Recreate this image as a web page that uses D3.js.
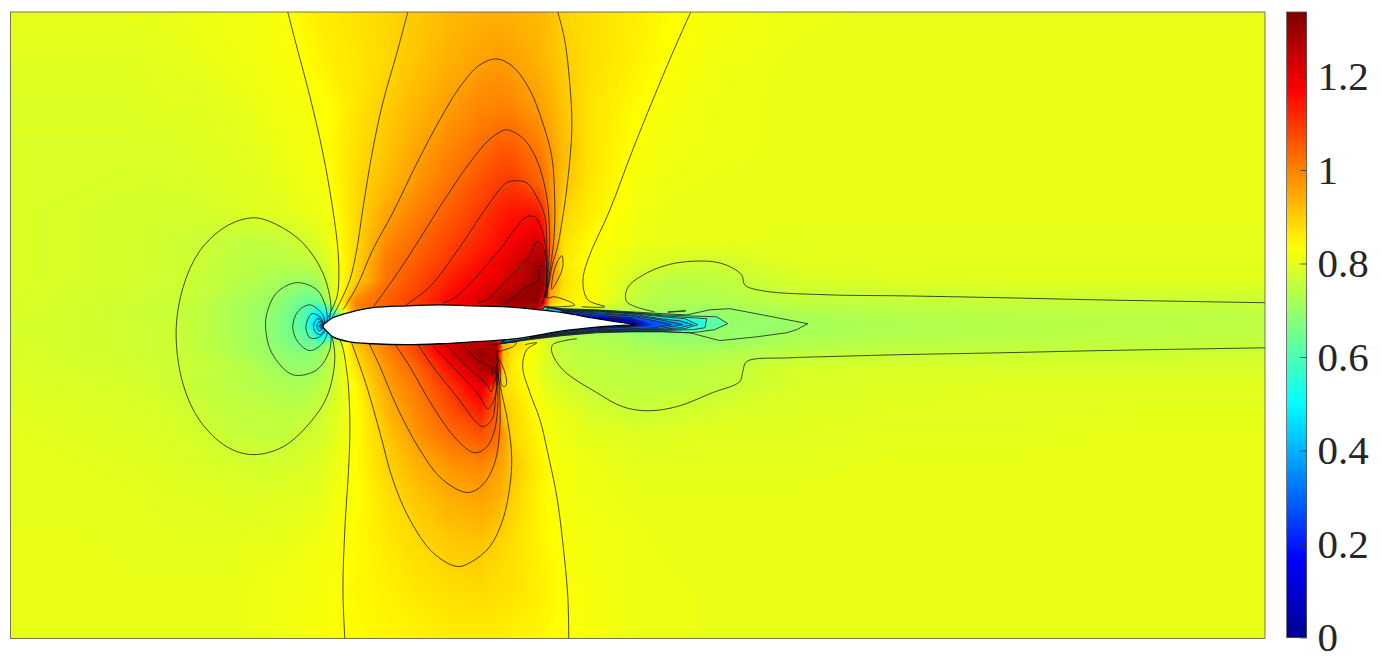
<!DOCTYPE html>
<html><head><meta charset="utf-8">
<script src="https://cdn.jsdelivr.net/npm/d3@7"></script>
<style>html,body{margin:0;padding:0;background:#fff;overflow:hidden}svg{display:block}</style>
</head><body><svg id="c" width="1382" height="656"></svg>
<script>
// Sample positions of the Mach field, in chord units
const gridX=[-1,-.8,-.6,-.5,-.4,-.3,-.2,-.12,-.06,-.02,.02,.1,.2,.3,.4,.5,.55,.57,.6,.68,.7,.72,.76,.85,1,1.1,1.25,1.5,1.8,2.2,2.6,3];
const gridY=[1,.85,.7,.55,.45,.35,.27,.2,.14,.08,.045,0,-.06,-.09,-.14,-.2,-.27,-.35,-.45,-.55,-.7,-.85,-1];
// Mach number x 100, one row per gridY
const machRows=[
[81,81,81,81,81.5,82,82,83,85,86,86.5,87.5,89,91,93,94,94,94,94,93,92.5,92,89.5,88,86,84,82.5,81.5,81,81,81,81],
[80,80,80,80.5,81,81.5,82,83,84,85,86,87,89,91.5,94,96,96.7,96.5,96,94,93,92.5,90.5,88,85.5,83.5,82,81,81,81,81,81],
[79.5,79.5,79.5,80,80,80.5,81.5,82,82.5,83,84,87,90.5,93.5,96.7,99.5,100,100,99.5,96.7,95.5,94.5,91.5,87.5,84,82.5,81.5,81,81,81,81,81],
[79,79,79,79,79.5,80,80.5,81.5,82,82.5,84.5,88,91.5,96,100,103.5,105.5,106,106,102,100,97.5,93,87.5,83,82,81.5,81,81,81,81,81],
[79,79,78.5,78.5,79,79.5,80,81,81.5,82,83.5,88.5,93,98,102.5,107,109,109.5,110,105,103,98.5,92,87,82.5,81.5,81,81,81,81,81,81],
[79,78.5,78,78,78,78.5,79.5,80,81,81.5,82.5,88.5,96,101,105.5,110,113,114,115,115.5,111,101,89.5,86,82,81,81,81,81,81,81,81],
[79,78.5,78,77.5,77,76,75.5,76.5,78,79.5,81.5,88.5,99,103.5,108,112.5,115,116,118,123,118,103,88,84,81.5,81,81,80.5,80.5,80.5,80.5,80.5],
[79,78.5,78,77.5,77,75.5,74.5,74.5,75.5,76.5,80,89,101.5,105.5,110.5,115.5,118,119.5,121.5,129,129,105,87,83,80,78.5,77.5,80,80.5,80.5,80.5,80.5],
[79,78.5,78,77.5,76.5,75,73.5,71.5,70.5,72,78.5,90,102.5,107.5,113.5,118.5,121,122.5,124.5,131,131,102,88,83.5,77,74.5,75,78.5,79.5,80,80,80],
[79,78,77.5,77,76,73.5,71.5,68,64,65,76,99,104.5,110,116.5,122.5,127,129,130.5,132,120,94,87,84,75.5,73.5,73.5,76,76.2,76.5,76.8,77],
[79,78,77,76.5,75.5,73,70.5,66.5,61,51,60,100,105,108,112,118,122,124,126,126,110,85,78,78,74,72,71,73.5,74.5,75,75,75.5],
[78,78,77.5,77,75.5,73,70.5,66,60,35,30,80,80,80,80,80,80,80,80,80,80,78,76,73,68,68,69,72,73,74,74.5,75],
[79,78,77.5,77,75.5,73.5,71,67,64.5,63,71,91.5,101,110,124,127,130,95,90,83,80,78,75,74,72.5,71,71,73.5,74.5,75,75.5,76],
[79,78,77.5,77,76,74,71.5,69,68,70,75,89.5,100,108,121.5,131,128,93,87,82,80.5,78.5,76,75,73.5,73,73.5,75.5,76.5,76.8,77,77.5],
[79,78.5,78,77,76.5,75,73,71,70,71.5,75.5,87,97.5,104.5,115,127,131,91,86,81,79.5,78.5,76.7,75.5,75,75,75.5,78.5,79,79,79,79],
[79.5,79,78.5,77.5,76,75,74,73,73.5,74.5,76.5,84.5,95.5,102,110,120,105,88.5,87,82.5,81,80,78.5,76.5,75.5,75.5,76,79,79.5,80,80,80],
[80,79.5,79,78.5,77,76,75.5,75,75.5,76.5,78.5,83.5,93.5,100,107,114,105,92,89,83.5,82.5,82,81,78.5,76.5,77.5,78.5,79.5,80,80,80.5,80.5],
[80.5,80,79.5,79,78,76.5,76,76,77.5,78,79.5,83.5,91,98,103,106.5,104,98,89.5,85,83.3,82.5,81.5,80.5,79.5,79.5,80,80,80.5,80.5,81,81],
[80.5,80.5,80,79.5,79,78.5,78,78.5,79,79.5,80.5,83.8,89.5,94,97.5,99.5,96.5,95,91.5,86,85,84,82.5,81.5,80.5,80.5,80.5,80.5,81,81,81,81],
[80.5,80.5,80.5,80,80,79.5,79.5,80,80,80.5,81.5,83.5,88,91.5,94.5,96,94.5,93,90,85.5,84.5,83.5,82.5,81.5,81,81,81,81,81,81,81,81],
[81,81,80.5,80.5,80.5,80.5,81,81,81.5,82,82.5,84.2,86.5,88.7,90.7,91.3,89.5,89,88,85.5,85,84.2,83.3,82,81.5,81,81,81,81,81,81,81],
[81,81,81,81,81,81,81.5,82,82,82.5,83,84.5,85.5,87,88,88.5,88,87.8,87.5,86,85.5,85,84,82.5,81.5,81.5,81,81,81,81,81,81],
[81,81,81,81,81,81,81.5,82,82.5,82.5,83,84,85,85.5,86,86,86,86,85.5,85,84.5,84,83.5,82.5,81.5,81.5,81,81,81,81,81,81]
];
const colorbarTicks=[0,.2,.4,.6,.8,1,1.2];
const machMax=1.338;

const airfoil=[[-.004,-.002],[.010,.012],[.028,.024],[.082,.041],[.155,.056],[.264,.062],[.369,.065],[.474,.062],[.582,.059],[.688,.049],[.761,.040],[.869,.021],[.975,.005],[.993,.003],[.869,-.006],[.761,-.018],[.656,-.036],[.582,-.046],[.474,-.053],[.369,-.059],[.264,-.062],[.155,-.059],[.082,-.053],[.028,-.037],[.013,-.024]];

// Open contour lines (chord units)
const upperLeft833=[[-.116,1],[-.087,.888],[-.045,.729],[-.004,.550],[.028,.368],[.044,.241],[.047,.155],[.041,.091],[.012,.024]];
const upperLeft900=[[.267,1],[.232,.869],[.187,.710],[.155,.560],[.123,.368],[.104,.241],[.082,.145],[.050,.072],[.025,.024]];
const upperRight900=[[.745,1],[.767,.911],[.783,.774],[.790,.633],[.777,.464],[.758,.327],[.742,.241],[.729,.199],[.719,.145],[.710,.088],[.735,.091],[.799,.065],[.751,.059],[.707,.059]];
const upperRight833=[[1.169,1],[1.111,.869],[1.048,.719],[.984,.560],[.911,.368],[.841,.209],[.825,.139],[.841,.081],[.895,.059],[.821,.059]];
const upper967=[[.060,.049],[.104,.123],[.155,.241],[.219,.359],[.296,.518],[.369,.656],[.433,.761],[.496,.831],[.551,.850],[.602,.825],[.656,.751],[.697,.646],[.726,.538],[.735,.410],[.735,.314],[.729,.241],[.719,.167],[.710,.091]];
const upper1033=[[.155,.056],[.219,.145],[.283,.241],[.369,.378],[.455,.506],[.519,.585],[.551,.611],[.582,.624],[.633,.598],[.678,.528],[.710,.410],[.719,.282],[.716,.199],[.710,.091]];
const upper1100=[[.257,.062],[.337,.123],[.433,.250],[.519,.378],[.582,.455],[.614,.461],[.646,.455],[.678,.410],[.704,.346],[.710,.263],[.710,.177],[.707,.091]];
const upper1167=[[.378,.072],[.407,.081],[.455,.123],[.560,.241],[.614,.314],[.646,.346],[.672,.346],[.694,.305],[.707,.241],[.710,.167],[.707,.088]];
const upper1233=[[.490,.072],[.519,.081],[.582,.145],[.646,.209],[.662,.234],[.678,.266],[.697,.250],[.710,.187],[.707,.123],[.697,.072]];
const upper1300=[[.576,.069],[.586,.075],[.633,.113],[.681,.145],[.688,.187],[.703,.187],[.710,.145],[.703,.091],[.694,.065]];
const oval767=[[.015,.011],[.022,.059],[-.004,.167],[-.068,.263],[-.151,.321],[-.224,.343],[-.310,.317],[-.396,.238],[-.450,.120],[-.472,-.024],[-.450,-.187],[-.396,-.305],[-.310,-.388],[-.227,-.413],[-.131,-.388],[-.045,-.311],[.009,-.228],[.034,-.110],[.025,-.037],[.015,-.014]];
const oval700=[[.012,.002],[.005,.059],[-.023,.113],[-.087,.136],[-.151,.104],[-.182,.040],[-.186,-.014],[-.167,-.088],[-.100,-.158],[-.023,-.142],[.018,-.078],[.022,-.024]];
const oval633=[[.002,.002],[-.004,.033],[-.045,.065],[-.084,.043],[-.100,-.005],[-.084,-.053],[-.045,-.081],[-.004,-.056],[.012,-.021]];
const oval567=[[-.004,.008],[-.014,.027],[-.039,.037],[-.058,-.005],[-.045,-.040],[-.020,-.040],[.002,-.021]];
const lobeUpper767=[[1.054,.043],[.965,.075],[.968,.120],[1.029,.167],[1.124,.199],[1.261,.199],[1.331,.161],[1.341,.129],[1.398,.110],[1.612,.097],[1.835,.094],[2.154,.088],[2.472,.081],[3,.072]];
const lobeLower767=[[.806,-.043],[.729,-.062],[.726,-.085],[.761,-.142],[.869,-.215],[.952,-.260],[1.029,-.273],[1.124,-.260],[1.239,-.215],[1.325,-.180],[1.335,-.148],[1.347,-.116],[1.484,-.104],[1.612,-.100],[1.835,-.094],[2.154,-.088],[2.472,-.081],[3,-.072]];
const sliver767=[[1.096,.043],[1.153,.046],[1.096,.041]];
const lower833L=[[.066,-1],[.060,-.844],[.066,-.652],[.079,-.439],[.082,-.301],[.073,-.152],[.050,-.046],[.021,-.018]];
const lower833R=[[.780,-1],[.777,-.866],[.761,-.694],[.742,-.547],[.713,-.407],[.688,-.301],[.656,-.215],[.633,-.132],[.646,-.078],[.678,-.056],[.640,-.062]];
const lower900=[[.082,-.040],[.136,-.196],[.178,-.343],[.219,-.493],[.273,-.620],[.347,-.726],[.423,-.770],[.465,-.758],[.528,-.707],[.570,-.620],[.592,-.515],[.598,-.420],[.586,-.311],[.566,-.215],[.554,-.152],[.551,-.078]];
const lower967=[[.139,-.049],[.178,-.132],[.232,-.260],[.305,-.397],[.378,-.493],[.458,-.534],[.506,-.509],[.544,-.439],[.560,-.333],[.560,-.228],[.554,-.142]];
const lower1033=[[.225,-.059],[.273,-.132],[.347,-.260],[.423,-.365],[.480,-.407],[.519,-.388],[.544,-.333],[.554,-.247],[.551,-.152]];
const lower1100=[[.299,-.062],[.347,-.132],[.423,-.228],[.487,-.311],[.506,-.324],[.535,-.301],[.547,-.228],[.551,-.152]];
const lower1167=[[.347,-.065],[.410,-.132],[.487,-.215],[.522,-.266],[.538,-.247],[.551,-.196],[.551,-.120]];
const lower1233=[[.391,-.065],[.455,-.132],[.519,-.190],[.532,-.212],[.541,-.190],[.551,-.142]];
const lower1300=[[.442,-.065],[.496,-.116],[.535,-.136],[.538,-.158],[.551,-.132],[.551,-.088]];
const lowerLobe=[[.538,-.062],[.614,-.056],[.601,-.069],[.551,-.085]];
const openLines=[upperLeft833,upperLeft900,upperRight900,upperRight833,upper967,upper1033,upper1100,upper1167,upper1233,upper1300,oval767,oval700,oval633,oval567,lobeUpper767,lobeLower767,sliver767,lower833L,lower833R,lower900,lower967,lower1033,lower1100,lower1167,lower1233,lower1300,lowerLobe];

// Closed contour loops
const bubbleUpper=[[.742,.199],[.758,.222],[.761,.187],[.745,.145],[.726,.116],[.729,.155]];
const bubbleLower=[[.554,-.104],[.570,-.132],[.582,-.183],[.576,-.196],[.566,-.190],[.560,-.132]];
const closedLines=[bubbleUpper,bubbleLower];

// Thin nested regions at the leading edge and in the boundary layer / wake
const le500=[[-.004,.008],[-.020,.021],[-.033,.002],[-.029,-.021],[-.014,-.030],[.002,-.014]];
const le433=[[-.004,.008],[-.017,.011],[-.023,-.002],[-.017,-.018],[-.004,-.011]];
const le300=[[-.004,.006],[-.012,.003],[-.014,-.004],[-.010,-.010],[-.003,-.007]];
const le200=[[-.005,.003],[-.008,0],[-.007,-.005],[-.003,-.004]];
const leLevels=[[.50,le500],[.43,le433],[.30,le300],[.15,le200]];
const wake700=[[.704,.059],[.761,.053],[.869,.049],[.975,.043],[1.080,.037],[1.156,.033],[1.229,.049],[1.293,.053],[1.398,.033],[1.542,.005],[1.507,-.014],[1.475,-.024],[1.379,-.037],[1.261,-.049],[1.166,-.024],[1.080,-.021],[.975,-.021],[.869,-.024],[.761,-.033],[.656,-.046],[.560,-.059]];
const wake633=[[.704,.059],[.761,.051],[.869,.048],[.975,.041],[1.080,.033],[1.156,.030],[1.252,.027],[1.287,.005],[1.245,-.014],[1.198,-.021],[1.166,-.024],[1.080,-.020],[.975,-.020],[.869,-.022],[.761,-.032],[.656,-.044],[.560,-.059]];
const wake567=[[.704,.059],[.761,.049],[.869,.046],[.975,.040],[1.080,.030],[1.175,.024],[1.220,.021],[1.214,-.008],[1.175,-.014],[1.080,-.017],[.975,-.019],[.869,-.021],[.761,-.030],[.656,-.043],[.560,-.059]];
const wake500=[[.719,.056],[.761,.048],[.869,.045],[.975,.038],[1.080,.027],[1.150,.021],[1.191,.002],[1.150,-.011],[1.080,-.015],[.975,-.017],[.869,-.019],[.761,-.029],[.656,-.042],[.560,-.059]];
const wake433=[[.719,.056],[.761,.046],[.869,.043],[.975,.037],[1.070,.021],[1.134,.014],[1.175,.002],[1.134,-.008],[1.070,-.013],[.975,-.015],[.869,-.018],[.761,-.027],[.656,-.041],[.560,-.055]];
const wake367=[[.761,.046],[.869,.040],[.975,.033],[1.070,.018],[1.143,.002],[1.070,-.011],[.975,-.013],[.869,-.016],[.761,-.026],[.656,-.040]];
const wake300=[[.761,.045],[.869,.037],[.975,.030],[1.054,.014],[1.108,.002],[1.054,-.008],[.975,-.011],[.869,-.014],[.761,-.024],[.656,-.039]];
const wake200=[[.761,.043],[.869,.032],[.975,.024],[1.038,.002],[.975,-.006],[.869,-.011],[.761,-.021],[.656,-.037]];
const wake100=[[.869,.027],[.975,.018],[1.010,.002],[.975,-.003],[.869,-.008]];
const wakeLevels=[[.70,wake700],[.62,wake633],[.55,wake567],[.48,wake500],[.41,wake433],[.34,wake367],[.27,wake300],[.17,wake200],[.07,wake100]];

const svg=d3.select("#c");
const x=d3.scaleLinear().domain([-1,3]).range([10.5,1265]);
const y=d3.scaleLinear().domain([1,-1]).range([12,638.5]);
const jet=d3.scaleLinear()
  .domain([0,1/8,3/8,5/8,7/8,1].map(t=>t*machMax))
  .range(["rgb(0,0,143)","rgb(0,0,255)","rgb(0,255,255)","rgb(255,255,0)","rgb(255,0,0)","rgb(128,0,0)"])
  .clamp(true);

// index space of d3.contours -> pixels
function indexScale(pos,s){
  const dom=[0],ran=[s(pos[0])];
  pos.forEach((p,i)=>{dom.push(i+.5);ran.push(s(p));});
  dom.push(pos.length);ran.push(s(pos[pos.length-1]));
  return d3.scaleLinear().domain(dom).range(ran);
}
const ix=indexScale(gridX,x),iy=indexScale(gridY,y);
const gridPath=d3.geoPath(d3.geoTransform({point(a,b){this.stream.point(ix(a),iy(b));}}));

const defs=svg.append("defs");
defs.append("clipPath").attr("id","plot").append("rect").attr("x",x(-1)).attr("y",y(1)).attr("width",x(3)-x(-1)).attr("height",y(-1)-y(1));
defs.append("filter").attr("id","soft").attr("x","-20%").attr("y","-20%").attr("width","140%").attr("height","140%")
  .append("feGaussianBlur").attr("stdDeviation",.9);

const plot=svg.append("g").attr("clip-path","url(#plot)");
const values=machRows.flat().map(v=>v/100);
const thresholds=d3.range(.06,machMax,.004);
plot.append("rect").attr("x",x(-1)).attr("y",y(1)).attr("width",x(3)-x(-1)).attr("height",y(-1)-y(1)).attr("fill",jet(.78));
plot.append("g").selectAll("path")
  .data(d3.contours().size([gridX.length,gridY.length]).thresholds(thresholds)(values))
  .join("path").attr("d",gridPath).attr("fill",d=>jet(d.value));

const open=d3.line().x(d=>x(d[0])).y(d=>y(d[1])).curve(d3.curveCatmullRom.alpha(.5));
const closed=d3.line().x(d=>x(d[0])).y(d=>y(d[1])).curve(d3.curveCatmullRomClosed.alpha(.5));
const straightClosed=d3.line().x(d=>x(d[0])).y(d=>y(d[1])).curve(d3.curveLinearClosed);
const lineStyle=s=>s.attr("fill","none").attr("stroke","#1c1c1c").attr("stroke-width",.8).attr("stroke-linejoin","round");

const soft=plot.append("g").attr("filter","url(#soft)");
soft.selectAll("path.w").data(wakeLevels).join("path").attr("class","w")
  .attr("d",d=>straightClosed(d[1])).attr("fill",d=>jet(d[0]));
soft.selectAll("path.l").data(leLevels).join("path").attr("class","l")
  .attr("d",d=>closed(d[1])).attr("fill",d=>jet(d[0]));

plot.append("g").selectAll("path.o").data(openLines).join("path").attr("class","o").attr("d",open).call(lineStyle);
plot.append("g").selectAll("path.c").data(closedLines).join("path").attr("class","c").attr("d",closed).call(lineStyle);
plot.append("g").selectAll("path.w").data(wakeLevels).join("path").attr("class","w").attr("d",d=>straightClosed(d[1])).call(lineStyle);
plot.append("g").selectAll("path.l").data(leLevels).join("path").attr("class","l").attr("d",d=>closed(d[1])).call(lineStyle);

plot.append("path").attr("d",closed(airfoil)).attr("fill","#fff").attr("stroke","#000").attr("stroke-width",1.3);

svg.append("rect").attr("x",x(-1)).attr("y",y(1)).attr("width",x(3)-x(-1)).attr("height",y(-1)-y(1))
  .attr("fill","none").attr("stroke","#555").attr("stroke-width",.8);

// colour bar
const cx0=1286.5,cx1=1306.5;
const cbar=d3.scaleLinear().domain([0,machMax]).range([637.5,12]);
const cb=svg.append("g").attr("shape-rendering","crispEdges");
const strip=d3.range(0,machMax,machMax/256);
cb.selectAll("rect").data(strip).join("rect")
  .attr("x",cx0).attr("width",cx1-cx0)
  .attr("y",d=>cbar(d+machMax/256)-.5).attr("height",d=>cbar(d)-cbar(d+machMax/256)+1)
  .attr("fill",d=>jet(d+machMax/512));
svg.append("rect").attr("x",cx0).attr("y",12).attr("width",cx1-cx0).attr("height",625.5).attr("fill","none").attr("stroke","#555").attr("stroke-width",.8);
const axis=d3.axisRight(cbar).tickValues(colorbarTicks).tickFormat(d=>String(d)).tickSizeInner(-6).tickSizeOuter(0).tickPadding(11);
const ag=svg.append("g").attr("transform",`translate(${cx1},0)`).call(axis);
ag.select(".domain").remove();
ag.selectAll("line").attr("stroke","#333").attr("stroke-width",.8);
ag.selectAll("text").attr("font-family","'Liberation Serif',serif").attr("font-size",41).attr("fill","#262626");
</script></body></html>
